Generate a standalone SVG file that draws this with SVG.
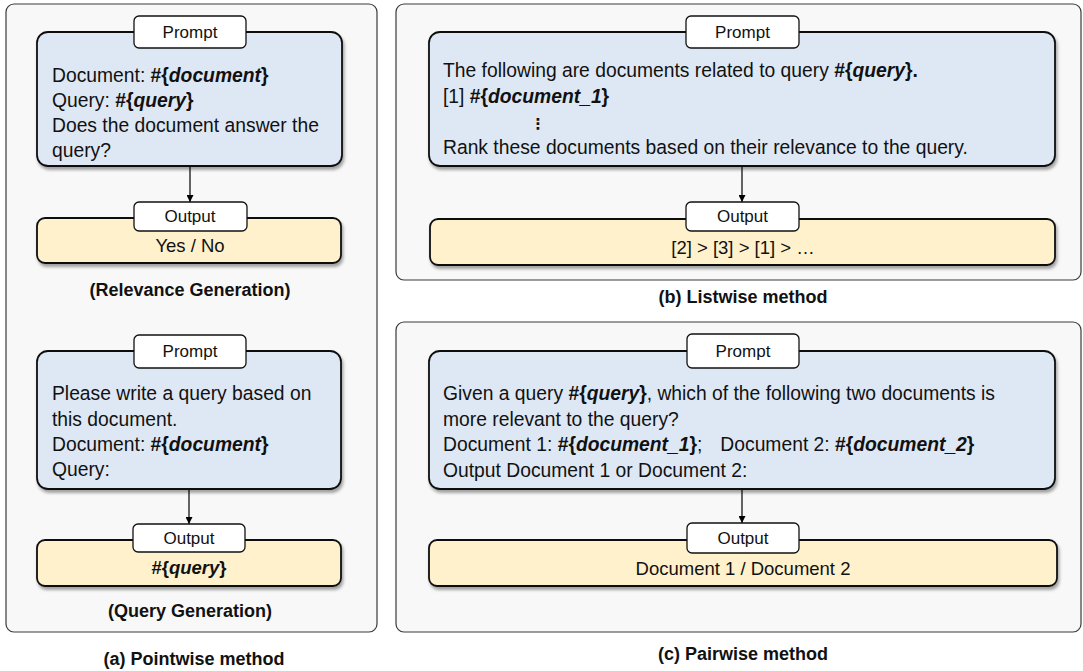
<svg xmlns="http://www.w3.org/2000/svg" width="1083" height="671" viewBox="0 0 1083 671">
<defs>
<filter id="sh" x="-10%" y="-10%" width="120%" height="130%">
<feDropShadow dx="1.5" dy="3" stdDeviation="1.8" flood-color="#000" flood-opacity="0.35"/>
</filter>
<marker id="ah" viewBox="0 0 10 10" refX="10" refY="5" markerWidth="7" markerHeight="7" orient="auto" markerUnits="userSpaceOnUse">
<path d="M0,0 L10,5 L0,10 z" fill="#000"/>
</marker>
</defs>
<style>
text{font-family:"Liberation Sans",Arial,sans-serif;fill:#111;}
.panel{fill:#f8f8f8;stroke:#3a3a3a;stroke-width:1.2;}
.prompt{fill:#dee8f4;stroke:#111;stroke-width:1.8;filter:url(#sh);}
.out{fill:#fff1cc;stroke:#111;stroke-width:1.8;filter:url(#sh);}
.lbl{fill:#fff;stroke:#111;stroke-width:1.3;}
.lt{font-size:17px;text-anchor:middle;}
.t{font-size:19.3px;}
.ot{font-size:18.5px;text-anchor:middle;}
.cap{font-size:18px;font-weight:bold;text-anchor:middle;}
.b{font-weight:bold;}
.bi{font-weight:bold;font-style:italic;}
.conn{stroke:#000;stroke-width:1.2;fill:none;}
</style>

<g id="panel-a">
<rect class="panel" x="6" y="4" width="371" height="628" rx="8"/>
</g>
<g id="panel-b">
<rect class="panel" x="396" y="4" width="685" height="276" rx="8"/>
</g>
<g id="panel-c">
<rect class="panel" x="396" y="322" width="685" height="310" rx="8"/>
</g>

<g id="connectors">
<line class="conn" x1="190" y1="166" x2="190" y2="202" marker-end="url(#ah)"/>
<line class="conn" x1="189" y1="489" x2="189" y2="524" marker-end="url(#ah)"/>
<line class="conn" x1="742" y1="166" x2="742" y2="202" marker-end="url(#ah)"/>
<line class="conn" x1="742" y1="489" x2="742" y2="523" marker-end="url(#ah)"/>
</g>

<g id="a1-prompt">
<rect class="prompt" x="37" y="32" width="305" height="134" rx="11"/>
<rect class="lbl" x="134" y="16" width="112" height="32" rx="5"/>
<text class="lt" x="190" y="38">Prompt</text>
<text class="t" x="52" y="82">Document: <tspan class="b">#{<tspan class="bi">document</tspan>}</tspan></text>
<text class="t" x="52" y="107">Query: <tspan class="b">#{<tspan class="bi">query</tspan>}</tspan></text>
<text class="t" x="52" y="132">Does the document answer the</text>
<text class="t" x="52" y="157">query?</text>
</g>
<g id="a1-output">
<rect class="out" x="37" y="218" width="304" height="45" rx="8"/>
<rect class="lbl" x="134" y="202" width="113" height="29" rx="5"/>
<text class="lt" x="190" y="222">Output</text>
<text class="ot" x="190" y="252">Yes / No</text>
<text class="cap" x="190" y="296">(Relevance Generation)</text>
</g>

<g id="a2-prompt">
<rect class="prompt" x="37" y="351" width="304" height="138" rx="11"/>
<rect class="lbl" x="134" y="335" width="112" height="33" rx="5"/>
<text class="lt" x="190" y="357">Prompt</text>
<text class="t" x="52" y="400">Please write a query based on</text>
<text class="t" x="52" y="426">this document.</text>
<text class="t" x="52" y="451">Document: <tspan class="b">#{<tspan class="bi">document</tspan>}</tspan></text>
<text class="t" x="52" y="476">Query:</text>
</g>
<g id="a2-output">
<rect class="out" x="37" y="540" width="304" height="46" rx="8"/>
<rect class="lbl" x="133" y="524" width="112" height="28" rx="5"/>
<text class="lt" x="189" y="544">Output</text>
<text class="ot b" x="189" y="574">#{<tspan class="bi">query</tspan>}</text>
<text class="cap" x="190" y="617">(Query Generation)</text>
</g>
<text class="cap" x="194" y="665">(a) Pointwise method</text>

<g id="b-prompt">
<rect class="prompt" x="429" y="32" width="626" height="134" rx="11"/>
<rect class="lbl" x="686" y="16" width="113" height="32" rx="5"/>
<text class="lt" x="742.5" y="38">Prompt</text>
<text class="t" x="443" y="77">The following are documents related to query <tspan class="b">#{<tspan class="bi">query</tspan>}.</tspan></text>
<text class="t" x="443" y="103">[1] <tspan class="b">#{<tspan class="bi">document_1</tspan>}</tspan></text>
<text x="538" y="129" style="font-family:'DejaVu Sans',sans-serif;font-size:15px;font-weight:bold;text-anchor:middle">⋮</text>
<text class="t" x="443" y="154">Rank these documents based on their relevance to the query.</text>
</g>
<g id="b-output">
<rect class="out" x="430" y="219" width="625" height="46" rx="8"/>
<rect class="lbl" x="686" y="202" width="113" height="29" rx="5"/>
<text class="lt" x="742.5" y="222">Output</text>
<text class="ot" x="743" y="254">[2] &gt; [3] &gt; [1] &gt; …</text>
</g>
<text class="cap" x="743" y="303">(b) Listwise method</text>

<g id="c-prompt">
<rect class="prompt" x="429" y="351" width="626" height="138" rx="11"/>
<rect class="lbl" x="687" y="334" width="112" height="34" rx="5"/>
<text class="lt" x="743" y="357">Prompt</text>
<text class="t" x="443" y="400">Given a query <tspan class="b">#{<tspan class="bi">query</tspan>}</tspan>, which of the following two documents is</text>
<text class="t" x="443" y="426">more relevant to the query?</text>
<text class="t" x="443" y="451">Document 1: <tspan class="b">#{<tspan class="bi">document_1</tspan>}</tspan>;<tspan dx="18">Document 2: </tspan><tspan class="b">#{<tspan class="bi">document_2</tspan>}</tspan></text>
<text class="t" x="443" y="477">Output Document 1 or Document 2:</text>
</g>
<g id="c-output">
<rect class="out" x="429" y="540" width="628" height="46" rx="8"/>
<rect class="lbl" x="687" y="523" width="112" height="30" rx="5"/>
<text class="lt" x="743" y="544">Output</text>
<text class="ot" x="743" y="575">Document 1 / Document 2</text>
</g>
<text class="cap" x="743" y="660">(c) Pairwise method</text>
</svg>
